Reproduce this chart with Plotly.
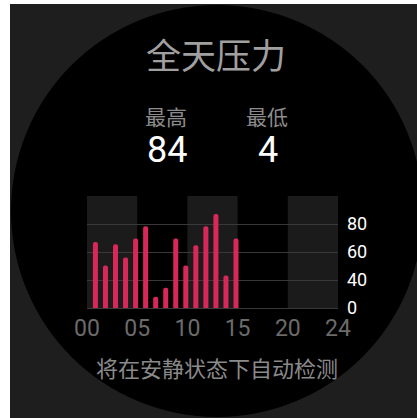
import plotly.graph_objects as go

# ---- data ----
hours = list(range(15))
stress = [59, 38, 57, 45, 62, 73, 10, 18, 62, 38, 56, 73, 84, 29, 62]
x_tick_vals = [0, 5, 10, 15, 20, 25]
x_tick_text = ["00", "05", "10", "15", "20", "24"]
y_tick_vals = [0, 25, 50, 75, 100]
y_tick_text = ["0", "40", "60", "80", ""]
band_starts = [0, 10, 20]
title_text = "全天压力"
max_label, min_label = "最高", "最低"
max_value, min_value = "84", "4"
footer_text = "将在安静状态下自动检测"

W, H = 417, 418
L, R, T, B = 87, 338, 196, 308


def px(x):
    return (x - L) / (R - L)


def py(y):
    return (B - y) / (B - T)


fig = go.Figure()
fig.add_trace(go.Bar(
    x=hours, y=stress, width=0.5, offset=0.59,
    marker=dict(color="#d8285a", line=dict(width=0), cornerradius=3),
    hoverinfo="skip",
))

shapes = [
    dict(type="rect", xref="paper", yref="paper", x0=px(10), x1=px(W + 5),
         y0=py(4), y1=py(H + 5), fillcolor="#1e1e1e", line=dict(width=0), layer="below"),
    dict(type="circle", xref="paper", yref="paper", x0=px(11), x1=px(423),
         y0=py(5), y1=py(417), fillcolor="#000000", line=dict(width=0), layer="below"),
]
for s in band_starts:
    shapes.append(dict(type="rect", xref="x", yref="y domain", x0=s, x1=s + 5, y0=0, y1=1,
                       fillcolor="#1b1b1b", line=dict(width=0), layer="below"))

cjk = "Noto Sans CJK SC"
ann = [
    dict(text=title_text, x=px(216), y=py(53), font=dict(family=cjk, size=35, color="#a0a0a0")),
    dict(text=max_label, x=px(166), y=py(116), font=dict(family=cjk, size=21, color="#8c8c8c")),
    dict(text=min_label, x=px(267), y=py(116), font=dict(family=cjk, size=21, color="#8c8c8c")),
    dict(text=max_value, x=px(167), y=py(150), font=dict(family="Roboto", size=36, color="#ffffff")),
    dict(text=min_value, x=px(268), y=py(150), font=dict(family="Roboto", size=36, color="#ffffff")),
    dict(text=footer_text, x=px(217), y=py(367), font=dict(family=cjk, size=22, color="#8a8a8a")),
]
for a in ann:
    a.update(xref="paper", yref="paper", showarrow=False, xanchor="center", yanchor="middle")

fig.update_layout(
    width=W, height=H,
    margin=dict(l=L, r=W - R, t=T, b=H - B, pad=0),
    paper_bgcolor="#ffffff", plot_bgcolor="rgba(0,0,0,0)",
    showlegend=False, shapes=shapes, annotations=ann,
    xaxis=dict(range=[0, 25], tickvals=x_tick_vals, ticktext=x_tick_text, showgrid=False,
               zeroline=False, showline=False, ticks="", ticklabelstandoff=4,
               tickfont=dict(family="Roboto", size=23, color="#6b6b6b"), fixedrange=True),
    yaxis=dict(range=[0, 100], tickvals=y_tick_vals, ticktext=y_tick_text, side="right",
               showgrid=True, gridcolor="#383838", gridwidth=1, zeroline=True,
               zerolinecolor="#383838", zerolinewidth=1, showline=False, ticks="",
               ticklabelstandoff=8, tickfont=dict(family="Roboto", size=18, color="#ffffff"),
               fixedrange=True),
)

fig.write_html("out.html", config={"displayModeBar": False},
               post_script="document.body.style.margin='0px';document.body.style.overflow='hidden';")
